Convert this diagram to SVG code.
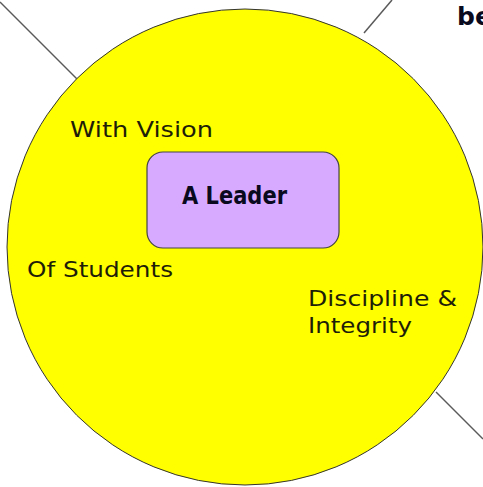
<svg xmlns="http://www.w3.org/2000/svg" width="483" height="487" viewBox="0 0 483 487">
<style>
.conn{stroke:#5a5a5a;stroke-width:1.5;fill:none}
.lbl{font-family:"DejaVu Sans","Noto Sans",sans-serif;font-size:21px;fill:#1e1e08}
.bold{font-family:"DejaVu Sans","Liberation Sans",sans-serif;font-weight:bold;font-stretch:condensed;font-size:25px;fill:#0a0a1e}
</style>
<rect width="483" height="487" fill="#ffffff"/>
<g id="connectors">
<line class="conn" x1="0" y1="2" x2="78" y2="80"/>
<line class="conn" x1="392" y1="0" x2="364" y2="33"/>
<line class="conn" x1="436" y1="392" x2="483" y2="439"/>
</g>
<g id="outside-label">
<text class="bold" x="457" y="25" font-size="21" style="font-stretch:normal">be</text>
</g>
<g id="circle-node">
<circle cx="245" cy="247" r="238" fill="#ffff00" stroke="#333333" stroke-width="1"/>
<text class="lbl" x="70" y="137" textLength="143" lengthAdjust="spacingAndGlyphs">With Vision</text>
<text class="lbl" x="27" y="277" textLength="146" lengthAdjust="spacingAndGlyphs">Of Students</text>
<text class="lbl" x="308" y="306" textLength="149" lengthAdjust="spacingAndGlyphs">Discipline &amp;</text>
<text class="lbl" x="308" y="333" textLength="104" lengthAdjust="spacingAndGlyphs">Integrity</text>
</g>
<g id="leader-node">
<rect x="147" y="152" width="192" height="96" rx="16" ry="16" fill="#d8aaff" stroke="#444444" stroke-width="1.2"/>
<text class="bold" x="182" y="204" textLength="105" lengthAdjust="spacingAndGlyphs">A Leader</text>
</g>
</svg>
